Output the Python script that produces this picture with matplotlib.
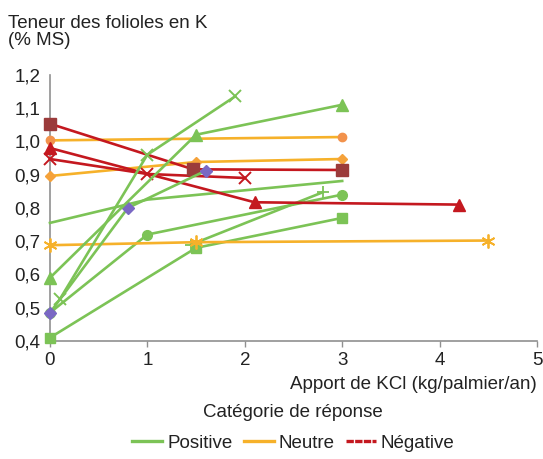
import matplotlib
matplotlib.use('Agg')
import matplotlib.pyplot as plt
from matplotlib.lines import Line2D
from matplotlib.ticker import FuncFormatter

plt.rcParams['font.family'] = ['Liberation Sans', 'DejaVu Sans']

# Couleurs par catégorie
VERT = '#7cc356'
ORANGE = '#f6b12a'
ROUGE = '#c4181f'

# Positive
pos_tri_x = [0, 1.5, 3]
pos_tri_y = [0.59, 1.02, 1.11]
pos_x_x = [0.1, 1.0, 1.9]
pos_x_y = [0.525, 0.96, 1.135]
pos_dia_x = [0, 0.8, 1.6]
pos_dia_y = [0.485, 0.80, 0.912]
pos_cir_x = [0, 1, 3]
pos_cir_y = [0.485, 0.72, 0.84]
pos_sq_x = [0, 1.5, 3]
pos_sq_y = [0.41, 0.68, 0.77]
pos_plain_x = [0, 1, 3]
pos_plain_y = [0.755, 0.825, 0.881]
pos_plus_x = [1.45, 2.8]
pos_plus_y = [0.69, 0.847]

# Neutre
neu_cir_x = [0, 3]
neu_cir_y = [1.003, 1.013]
neu_dia_x = [0, 1.5, 3]
neu_dia_y = [0.896, 0.938, 0.947]
neu_ast_x = [0, 1.5, 4.5]
neu_ast_y = [0.688, 0.697, 0.702]

# Négative
neg_sq_x = [0, 1.47, 3]
neg_sq_y = [1.053, 0.916, 0.914]
neg_tri_x = [0, 2.1, 4.2]
neg_tri_y = [0.98, 0.817, 0.81]
neg_x_x = [0, 1, 2]
neg_x_y = [0.947, 0.902, 0.89]

fig = plt.figure(figsize=(5.43, 4.59), dpi=100)
ax = fig.add_axes([0.092, 0.257, 0.897, 0.580])

lw = 1.9
kw = dict(lw=lw, clip_on=False)
ax.plot(pos_plain_x, pos_plain_y, color=VERT, **kw)
ax.plot(pos_sq_x, pos_sq_y, color=VERT, marker='s', ms=7, mfc=VERT, mec=VERT, **kw)
ax.plot(pos_cir_x, pos_cir_y, color=VERT, marker='o', ms=7, mfc=VERT, mec=VERT, **kw)
ax.plot(pos_plus_x, pos_plus_y, color=VERT, marker='+', ms=9, mew=1.3, **kw)
ax.plot(neu_ast_x, neu_ast_y, color=ORANGE, marker=(6, 2, 0), ms=10, mew=1.3, mec=ORANGE, **kw)
ax.plot(neu_cir_x, neu_cir_y, color=ORANGE, marker='o', ms=6, mfc='#f2924c', mec='#f2924c', **kw)
ax.plot(neu_dia_x, neu_dia_y, color=ORANGE, marker='D', ms=5.5, mfc='#f5a23a', mec='#f5a23a', **kw)
ax.plot(neg_x_x, neg_x_y, color=ROUGE, marker='x', ms=8, mew=1.4, **kw)
ax.plot(neg_tri_x, neg_tri_y, color=ROUGE, marker='^', ms=8, mfc=ROUGE, mec=ROUGE, **kw)
ax.plot(neg_sq_x, neg_sq_y, color=ROUGE, marker='s', ms=8, mfc='#9b3b3b', mec='#9b3b3b', **kw)
ax.plot(pos_dia_x, pos_dia_y, color=VERT, marker='D', ms=6, mfc='#7a68c4', mec='#7a68c4', **kw)
ax.plot(pos_tri_x, pos_tri_y, color=VERT, marker='^', ms=8, mfc=VERT, mec=VERT, **kw)
ax.plot(pos_x_x, pos_x_y, color=VERT, marker='x', ms=8, mew=1.4, **kw)

ax.set_xlim(0, 5)
ax.set_ylim(0.4, 1.2)
ax.set_xticks([0, 1, 2, 3, 4, 5])
ax.set_yticks([0.4, 0.5, 0.6, 0.7, 0.8, 0.9, 1.0, 1.1, 1.2])
ax.yaxis.set_major_formatter(FuncFormatter(lambda v, p: f"{v:.1f}".replace('.', ',')))

for s in ['top', 'right']:
    ax.spines[s].set_visible(False)
for s in ['left', 'bottom']:
    ax.spines[s].set_color('#909090')
    ax.spines[s].set_linewidth(1.2)
    ax.spines[s].set_zorder(0.5)
ax.tick_params(axis='both', colors='#909090', labelcolor='#222222', labelsize=13.5, length=4, width=1)
ax.tick_params(axis='y', length=0, pad=7)
ax.tick_params(axis='x', pad=4)

fig.text(0.015, 0.968, "Teneur des folioles en K\n(% MS)", ha='left', va='top',
         fontsize=13.5, color='#222222', linespacing=1.0)
fig.text(0.989, 0.162, "Apport de KCl (kg/palmier/an)", ha='right', va='center',
         fontsize=13.5, color='#222222')

handles = [Line2D([], [], color=VERT, lw=2.4),
           Line2D([], [], color=ORANGE, lw=2.4),
           Line2D([], [], color=ROUGE, lw=2.4, ls=(0, (2.2, 0.4)))]
leg = fig.legend(handles, ['Positive', 'Neutre', 'Négative'], loc='center',
                 bbox_to_anchor=(0.54, 0.068), ncol=3, frameon=False,
                 title='Catégorie de réponse', fontsize=13.5, title_fontsize=13.5,
                 handlelength=1.6, handletextpad=0.25, columnspacing=0.6,
                 borderpad=0.2, labelspacing=0.2)
leg._legend_box.sep = 10
plt.setp(leg.get_title(), color='#222222')
for t in leg.get_texts():
    t.set_color('#222222')

fig.savefig('out.png', dpi=100)
